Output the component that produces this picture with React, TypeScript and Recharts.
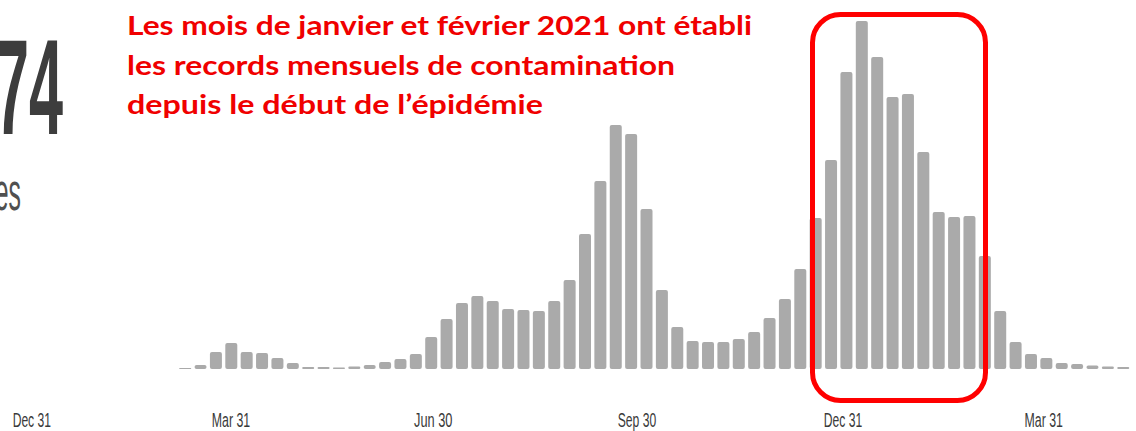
import React from "react";
import { BarChart, Bar, XAxis, YAxis } from "recharts";

const weeks = [10, 11, 12, 13, 14, 15, 16, 17, 18, 19, 20, 21, 22, 23, 24, 25, 26, 27, 28, 29, 30, 31, 32, 33, 34, 35, 36, 37, 38, 39, 40, 41, 42, 43, 44, 45, 46, 47, 48, 49, 50, 51, 52, 53, 54, 55, 56, 57, 58, 59, 60, 61, 62, 63, 64, 65, 66, 67, 68, 69, 70, 71];
const cases = [1, 4, 17, 26, 17, 16, 11, 6, 2, 2, 1.5, 2.5, 4, 7, 10, 15, 32, 50, 66, 73, 68, 60, 59, 58, 68, 89, 135, 188, 244, 235, 160, 79, 42, 28, 27, 27, 30, 37, 51, 70, 100, 151, 209, 297, 348, 312, 272, 275, 217, 157, 152, 153, 113, 58, 27, 15, 11, 6, 5, 3.5, 2.5, 2];
const tickWeeks = [0.05, 13, 26.15, 39.4, 52.8, 65.85];
const tickLabels = ["Dec 31", "Mar 31", "Jun 30", "Sep 30", "Dec 31", "Mar 31"];
const noteLines = [
  "Les mois de janvier et février 2021 ont établi",
  "les records mensuels de contamination",
  "depuis le début de l\u2019épidémie",
];
const noteWidths = [625, 548, 416];
const bigNumber = "74";
const subText = "es";

const data = weeks.map((w, i) => ({ week: w, value: cases[i] }));

const DateTick = (props: any) => {
  const { x, y, payload } = props;
  const idx = tickWeeks.indexOf(payload.value);
  const label = idx >= 0 ? tickLabels[idx] : "";
  const w = label.length * 6.4;
  return (
    <text
      x={x - w / 2}
      y={y + 57.5}
      fill="#3a3a3a"
      fontSize={20.5}
      fontFamily="'Liberation Sans', Arial, sans-serif"
      textLength={w}
      lengthAdjust="spacingAndGlyphs"
    >
      {label}
    </text>
  );
};

export default function App() {
  return (
    <div
      style={{
        position: "absolute",
        left: 0,
        top: 0,
        width: 1136,
        height: 431,
        background: "#ffffff",
        overflow: "hidden",
      }}
    >
      <BarChart
        width={1136}
        height={431}
        data={data}
        margin={{ top: 19, right: 0, bottom: 32, left: 0 }}
      >
        <XAxis
          type="number"
          dataKey="week"
          domain={[-2.02, 71.85]}
          allowDataOverflow
          ticks={tickWeeks}
          interval={0}
          axisLine={false}
          tickLine={false}
          tickSize={0}
          tickMargin={0}
          height={30}
          tick={<DateTick />}
        />
        <YAxis hide domain={[0, 350]} allowDataOverflow />
        <Bar
          dataKey="value"
          fill="#aaaaaa"
          barSize={12}
          radius={2}
          isAnimationActive={false}
        />
      </BarChart>
      <svg
        width={1136}
        height={431}
        style={{ position: "absolute", left: 0, top: 0, pointerEvents: "none" }}
      >
        <g transform="translate(63,134) scale(0.45,1)">
          <text
            x={0}
            y={0}
            textAnchor="end"
            fill="#3d3d3d"
            fontSize={136}
            fontWeight={700}
            fontFamily="'Liberation Sans', Arial, sans-serif"
          >
            {bigNumber}
          </text>
        </g>
        <g transform="translate(21,210) scale(0.46,1)">
          <text
            x={0}
            y={0}
            textAnchor="end"
            fill="#505050"
            fontSize={54}
            fontFamily="'Liberation Sans', Arial, sans-serif"
          >
            {subText}
          </text>
        </g>
        {noteLines.map((line, i) => (
          <text
            key={i}
            x={127}
            y={35 + i * 39.5}
            fill="#f00000"
            fontSize={26}
            fontWeight={700}
            fontFamily="Lato, 'Open Sans', sans-serif"
            textLength={noteWidths[i]}
            lengthAdjust="spacingAndGlyphs"
          >
            {line}
          </text>
        ))}
        <rect
          x={812.5}
          y={14.5}
          width={173}
          height={386}
          rx={28}
          ry={28}
          fill="none"
          stroke="#ff0000"
          strokeWidth={5}
        />
      </svg>
    </div>
  );
}
